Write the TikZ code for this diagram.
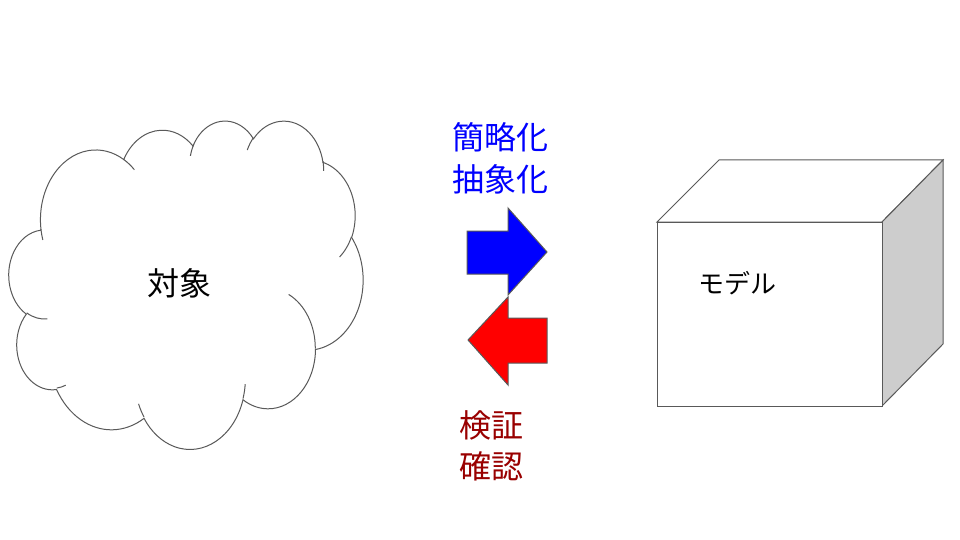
\documentclass[tikz,border=0pt]{standalone}
\usepackage{fontspec}
\newfontfamily\jpfont{Noto Sans CJK JP}
\usepackage{tikz}
\definecolor{linegray}{RGB}{89,89,89}
\definecolor{sidegray}{RGB}{205,205,205}
\definecolor{darkred}{RGB}{153,0,0}
\tikzset{
	outline/.style={
		draw=linegray,
		line width=1pt,
		line join=miter
	},
	label jp/.style={
		font=\jpfont\fontsize{32}{40}\selectfont,
		inner sep=0pt,
		align=center
	}
}
% arc of the cloud, angles measured as seen (not parametric)
\newcommand\cloudarc[4]{
	arc[x radius=#1, y radius=#2,
		start angle={atan2(#1*sin(#3),#2*cos(#3))},
		delta angle={Mod(atan2(#1*sin(#3+#4),#2*cos(#3+#4))-atan2(#1*sin(#3),#2*cos(#3)),360)}]
}

\begin{document}
\begin{tikzpicture}[x=1pt,y=-1pt]
		\useasboundingbox[fill=white] (0,0) rectangle (960,540);

		% cloud
		\begin{scope}[shift={(9,120)},x=0.008194pt,y=-0.007593pt]
			\draw[outline,fill=white] (3900,14370)
				\foreach \rx/\ry/\st/\sw in {
					6753/9190/-190.487483/123.780533,
					5333/7267/-144.102383/89.945233,
					4365/5945/-145.807917/99.723017,
					4857/6595/-130.986067/117.241733,
					5333/7273/-78.708883/109.026917,
					6775/9220/-46.26725/130.269,
					5785/7867/0.625017/114.033333,
					6752/9215/22.4516/115.17255,
					7720/10543/66.242633/75.711017,
					4360/5918/-274.942083/146.735567,
					4345/5945/-246.8285/152.51885} {
					\cloudarc{\rx}{\ry}{\st}{\sw}
				} -- cycle;
			\draw[outline]
				\foreach \px/\py/\rx/\ry/\st/\sw in {
					4693/26177/4345/5945/86.742/26.4295,
					6928/34899/4360/5918/73.6105/11.4475,
					16478/39090/6752/9215/137.6242/14.0811,
					28827/34751/6752/9215/6.4533/15.9984,
					34129/22954/5785/7867/-70.2924/70.9174,
					41798/15354/5333/7273/30.318/27.7515,
					38324/5426/4857/6595/-13.7443/14.8589,
					29078/3952/4857/6595/-149.1815/18.1954,
					22141/4720/4365/5945/-163.4943/19.5042,
					14000/5192/6753/9190/-66.707/12.3194,
					4127/15789/6753/9190/157.6544/11.8582} {
					(\px,\py) \cloudarc{\rx}{\ry}{\st}{\sw}
				};
		\end{scope}
		\node[label jp] (taisho) at (179,283) {対象};

		% arrows
		\draw[outline,fill=blue]
			(467,231) -- (508,231) -- (508,208) -- (547,252)
			-- (508,295) -- (508,274) -- (467,274) -- cycle;
		\draw[outline,fill=red]
			(547,318) -- (508,318) -- (508,297) -- (468,340)
			-- (508,385) -- (508,363) -- (547,363) -- cycle;
		\node[label jp,text=blue]    (kanryaku) at (500,158) {簡略化\\[2pt]抽象化};
		\node[label jp,text=darkred] (kensho)   at (491,446) {検証\\[1pt]確認};

		% cube
		\draw[outline,fill=white] (657,222) -- (719,160) -- (943,160) -- (882,222) -- cycle;
		\draw[outline,fill=sidegray] (882,222) -- (943,160) -- (943,344) -- (882,406) -- cycle;
		\draw[outline,fill=white] (657,222) rectangle (882,406);
		\node[label jp,font=\jpfont\fontsize{26}{30}\selectfont] (model) at (737,283) {モデル};
\end{tikzpicture}
\end{document}
